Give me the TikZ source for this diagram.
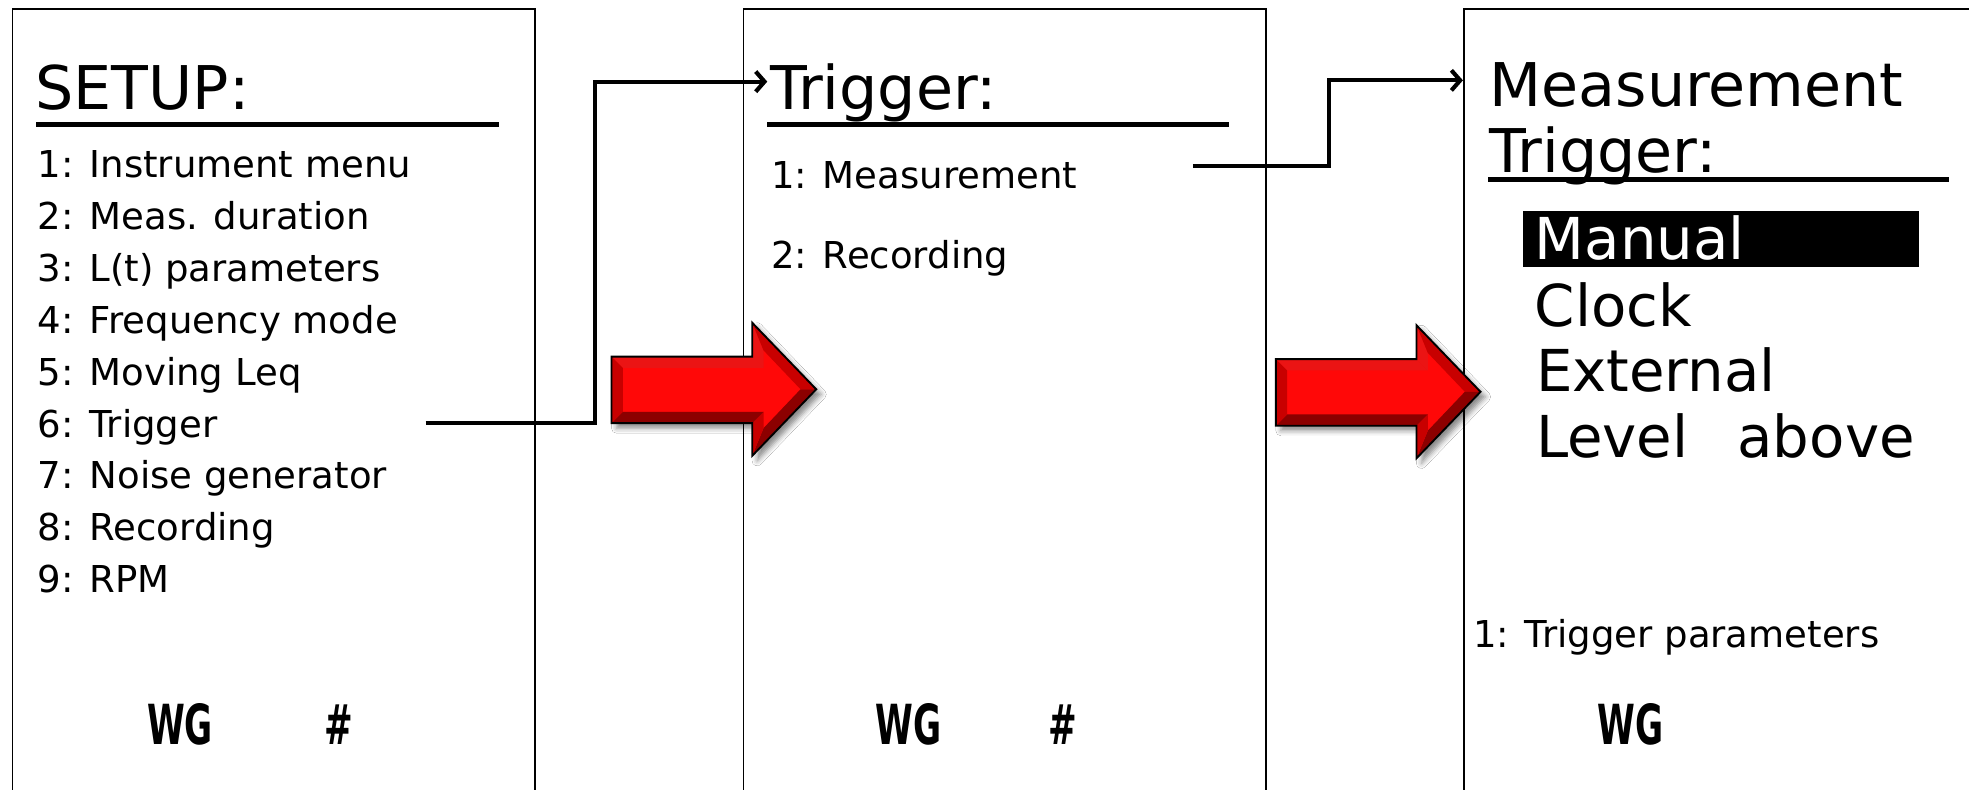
\documentclass[tikz,border=0pt]{standalone}
\usepackage{fontspec}
\setmainfont{DejaVu Sans}
\newfontfamily\wgfont[FakeStretch=0.62]{DejaVu Sans}
\usetikzlibrary{arrows.meta,shadows.blur}
\definecolor{redmain}{RGB}{255,8,8}
\definecolor{redlight}{RGB}{235,20,20}
\definecolor{redmid}{RGB}{200,0,0}
\definecolor{reddark}{RGB}{140,0,0}
\tikzset{
  panel/.style={line width=1.4pt},
  title/.style={anchor=base west,inner sep=0pt,font=\fontsize{48}{50}\selectfont},
  item/.style={anchor=base west,inner sep=0pt,font=\fontsize{29.5}{31}\selectfont},
  opt/.style={anchor=base west,inner sep=0pt,font=\fontsize{46}{48}\selectfont},
  wg/.style={anchor=base west,inner sep=0pt,font=\wgfont\bfseries\fontsize{44}{44}\selectfont},
  uline/.style={line width=3.5pt},
  conn/.style={line width=3.3pt,-{Straight Barb[length=7pt,width=16pt]}},
  pics/redarrow/.style={code={
    \fill[redmain,blur shadow={shadow xshift=4pt,shadow yshift=-4pt,shadow opacity=45,shadow blur radius=4pt}]
      (0,0)--(112,0)--(112,-27)--(163,26)--(112,79)--(112,53)--(0,53)--cycle;
    \fill[redlight] (0,0)--(112,0)--(121,9)--(9,9)--cycle;
    \fill[redlight] (112,0)--(112,-27)--(121,-5)--(121,9)--cycle;
    \fill[redmid] (112,-27)--(163,26)--(150.5,26)--(121,-5)--cycle;
    \fill[reddark] (163,26)--(112,79)--(121,57)--(150.5,26)--cycle;
    \fill[redmid] (112,79)--(112,53)--(121,44)--(121,57)--cycle;
    \fill[reddark] (112,53)--(0,53)--(9,44)--(121,44)--cycle;
    \fill[redmid] (0,53)--(0,0)--(9,9)--(9,44)--cycle;
    \draw[line width=1.5pt,line join=miter]
      (0,0)--(112,0)--(112,-27)--(163,26)--(112,79)--(112,53)--(0,53)--cycle;
  }}
}
\begin{document}
\begin{tikzpicture}[x=1pt,y=-1pt]
\useasboundingbox (0,0) rectangle (1568,629);
\fill[white] (0,0) rectangle (1568,629);
% panels
\draw[panel] (10,629)--(10,7)--(426,7)--(426,629);
\draw[panel] (592,629)--(592,7)--(1008,7)--(1008,629);
\draw[panel] (1166,629)--(1166,7)--(1568,7);

% red arrows
\pic at (487,284) {redarrow};
\pic at (1016,286) {redarrow};

% panel 1
\node[title] (setup) at (28,87) {SETUP:};
\draw[uline] (29,99)--(397,99);
\node[item] (s1) at (30,141) {1: Instrument menu};
\node[item] (s2) at (30,182.4) {2: Meas. duration};
\node[item] (s3) at (30,223.8) {3: L(t) parameters};
\node[item] (s4) at (30,265.2) {4: Frequency mode};
\node[item] (s5) at (30,306.6) {5: Moving Leq};
\node[item] (s6) at (30,348) {6: Trigger};
\node[item] (s7) at (30,389.4) {7: Noise generator};
\node[item] (s8) at (30,430.8) {8: Recording};
\node[item] (s9) at (30,472.2) {9: RPM};
\node[wg] (wg1) at (117,593) {WG};
\node[wg] (hash1) at (258,593) {\#};

% panel 2
\node[title] (trig) at (613,87) {Trigger:};
\draw[uline] (611,99)--(979,99);
\node[item] (t1) at (614,150) {1: Measurement};
\node[item] (t2) at (614,214) {2: Recording};
\node[wg] (wg2) at (697,593) {WG};
\node[wg] (hash2) at (835,593) {\#};

% panel 3
\node[title] (meas) at (1186,85) {Measurement};
\node[title] (mtrig) at (1186,137) {Trigger:};
\draw[uline] (1185,143)--(1552,143);
\fill[black] (1213,168) rectangle (1528,213);
\node[opt,text=white] (o1) at (1222,207) {Manual};
\node[opt] (o2) at (1222,260) {Clock};
\node[opt] (o3) at (1223,312) {External};
\node[opt] (o4) at (1223,364) {Level\hspace{0.85em}above};
\node[item] (tp) at (1173,516) {1: Trigger parameters};
\node[wg] (wg3) at (1272,593) {WG};

% connectors
\coordinate (c1a) at (339,337);
\coordinate (c1m) at (474,65);
\coordinate (c1b) at (611,65);
\draw[conn] (c1a) -| (c1m) -- (c1b);
\coordinate (c2a) at (950,132);
\coordinate (c2m) at (1058,64);
\coordinate (c2b) at (1165,64);
\draw[conn] (c2a) -| (c2m) -- (c2b);
\end{tikzpicture}
\end{document}
